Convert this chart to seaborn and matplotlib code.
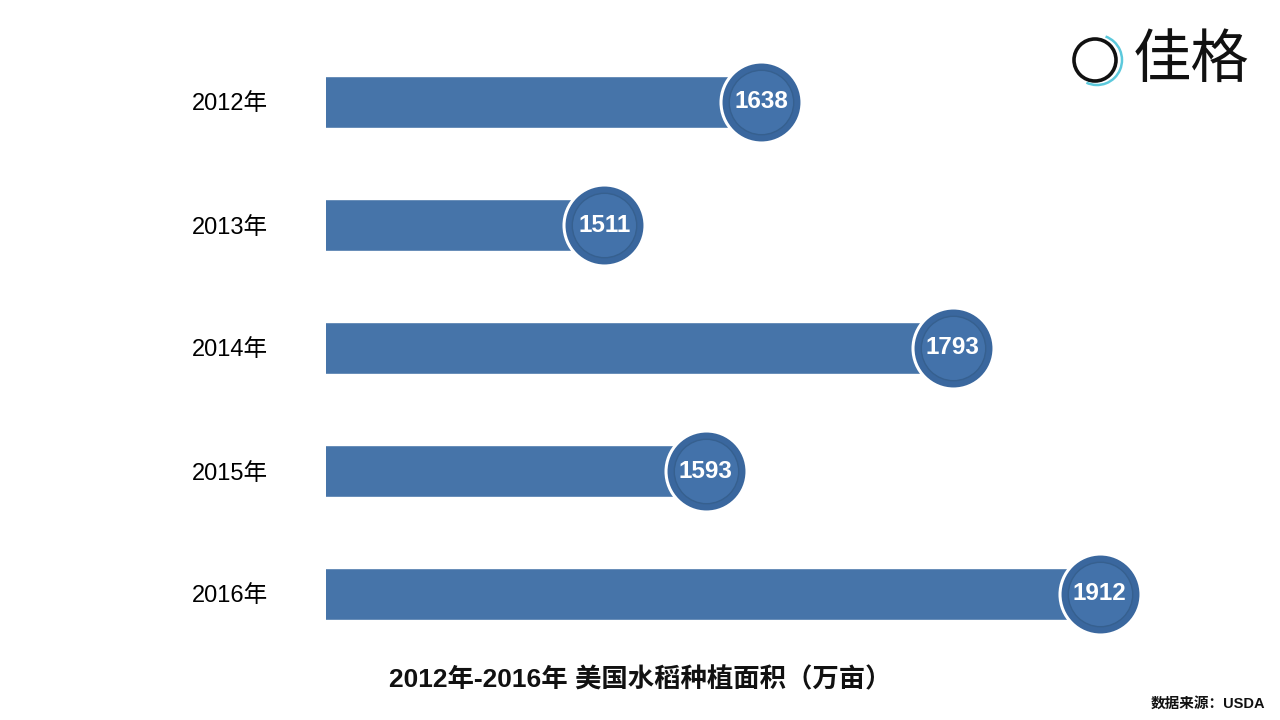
import matplotlib
matplotlib.use('Agg')
import matplotlib.pyplot as plt
import seaborn as sns
import pandas as pd
from matplotlib.patches import Circle, Arc

# data
years = ['2012年', '2013年', '2014年', '2015年', '2016年']
area = [1638, 1511, 1793, 1593, 1912]
title = '2012年-2016年 美国水稻种植面积（万亩）'
source = '数据来源：USDA'

df = pd.DataFrame({'year': years, 'area': area})

sns.set_theme(style='white')
plt.rcParams['font.family'] = ['Liberation Sans', 'Noto Sans CJK SC', 'DejaVu Sans']

bar_color = '#4674a9'
ring_color = '#3a679e'
inner_color = '#4372aa'

fig = plt.figure(figsize=(12.8, 7.2), dpi=100)
ax = fig.add_axes([326 / 1280, 1 - 655.5 / 720, (1200 - 326) / 1280, 615 / 720])

sns.barplot(data=df, x='area', y='year', orient='h', color=bar_color,
            width=0.42, saturation=1, ax=ax)

# circles at bar ends
ax.scatter(df['area'], df['year'], s=3400, color=ring_color,
           edgecolor='white', linewidth=2.2, zorder=3)
ax.scatter(df['area'], df['year'], s=2150, color=inner_color,
           edgecolor='#36608f', linewidth=1.0, zorder=4)
for i, v in enumerate(area):
    ax.text(v, i, str(v), ha='center', va='center', color='white',
            fontsize=17.5, fontweight='bold', zorder=5)

ax.set_xlim(1286, 1993)
ax.set_ylim(4.5, -0.5)
ax.set_xlabel('')
ax.set_ylabel('')
ax.set_xticks([])
ax.tick_params(axis='y', length=0, pad=42, labelsize=17)
for lbl in ax.get_yticklabels():
    lbl.set_color('#000000')
sns.despine(ax=ax, left=True, bottom=True)

fig.text(0.5, 1 - 680 / 720, title, ha='center', va='center',
         fontsize=19, fontweight='bold', color='#111111')
fig.text(1265 / 1280, 1 - 704 / 720, source, ha='right', va='center',
         fontsize=10.5, fontweight='bold', color='#111111')

# logo
lax = fig.add_axes([1060 / 1280, 1 - 100 / 720, 80 / 1280, 80 / 720])
lax.set_xlim(0, 80)
lax.set_ylim(0, 80)
lax.set_aspect('equal')
lax.axis('off')
lax.add_patch(Circle((35, 40), 21, fill=False, edgecolor='#111111', linewidth=2.6))
lax.add_patch(Arc((37, 40), 50, 50, theta1=-115, theta2=70,
                  edgecolor='#5cc9dc', linewidth=1.8))
fig.text(1133 / 1280, 1 - 60 / 720, '佳格', ha='left', va='center',
         fontsize=42, fontweight='light', color='#111111',
         family=['Noto Sans CJK SC'])

plt.savefig('out.png', dpi=100)
